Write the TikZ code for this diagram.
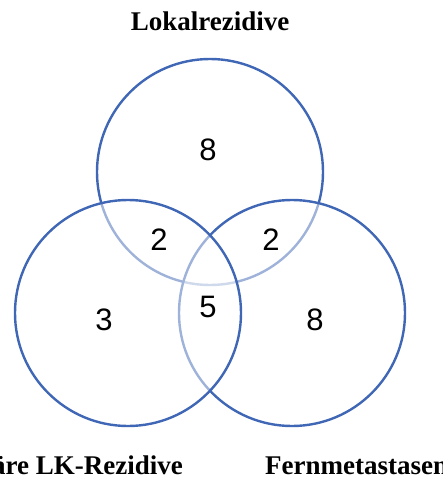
\documentclass[tikz,border=0pt]{standalone}
\usepackage{fontspec}
\setmainfont{Liberation Serif}
\newfontfamily\numfont{Liberation Sans}
\definecolor{vblue}{HTML}{3F67B5}
\begin{document}
\begin{tikzpicture}[x=1pt,y=-1pt,
  vcirc/.style={circle, draw=vblue, line width=2.4pt, fill=white, fill opacity=0.5, draw opacity=1, minimum size=226pt, inner sep=0pt},
  num/.style={font=\numfont\fontsize{31}{31}\selectfont, text=black},
  lab/.style={font=\bfseries\fontsize{27}{27}\selectfont, text=black, inner sep=0pt}]
\useasboundingbox (0,0) rectangle (442,479);
\clip (0,0) rectangle (442,479);
\node[vcirc] (ctop) at (210,172) {};
\node[vcirc] (cright) at (292,313) {};
\node[vcirc] (cleft) at (128,313) {};
\node[num] (n1) at (208,150) {8};
\node[num] (n2) at (159,240) {2};
\node[num] (n3) at (271,240) {2};
\node[num] (n4) at (104,320) {3};
\node[num] (n5) at (208,307) {5};
\node[num] (n6) at (315,320) {8};
\node[lab, anchor=base] (l1) at (210,30) {Lokalrezidive};
\node[lab, anchor=base east] (l2) at (183,474) {äre LK-Rezidive};
\node[lab, anchor=base west] (l3) at (265,474) {Fernmetastasen};
\end{tikzpicture}
\end{document}
